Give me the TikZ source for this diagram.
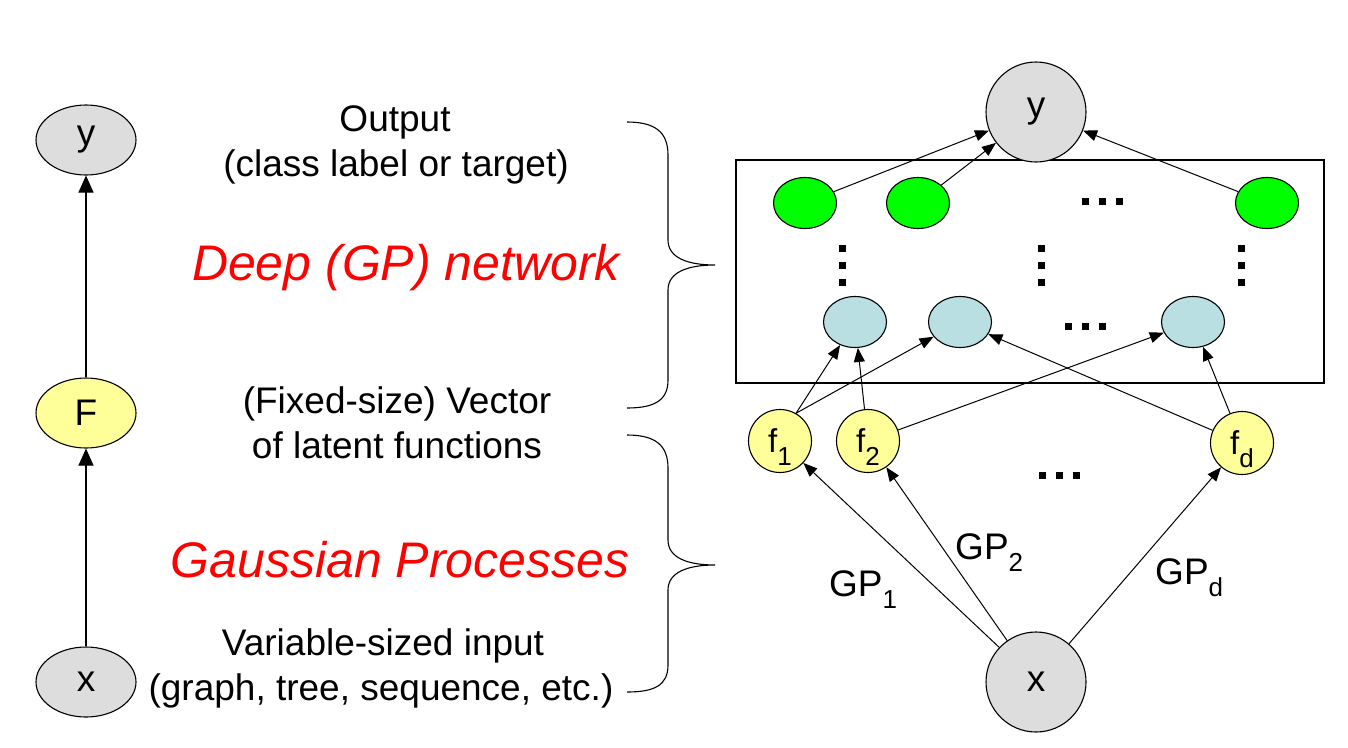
\documentclass[tikz,border=0pt]{standalone}
\usepackage{fontspec}
\setmainfont{Liberation Sans}
\usetikzlibrary{shapes.geometric, arrows.meta}
\definecolor{obsgray}{HTML}{DDDDDD}
\definecolor{latyellow}{HTML}{FFFF99}
\definecolor{topgreen}{HTML}{00FF00}
\definecolor{lowblue}{HTML}{B9DFE3}
\newcommand\lowsub[2][12pt]{\raisebox{-#1}[0pt][0pt]{\fontsize{26}{26}\selectfont #2}}

\begin{document}
\begin{tikzpicture}[x=1pt,y=-1pt,
    every node/.style={font=\fontsize{37}{45}\selectfont},
    obs/.style={ellipse, draw, line width=1.1pt, fill=obsgray, inner sep=0pt},
    latent/.style={ellipse, draw, line width=1.1pt, fill=latyellow, inner sep=0pt},
    unit/.style={ellipse, draw, line width=1.1pt, inner sep=0pt, minimum width=63pt, minimum height=51pt},
    redlbl/.style={text=red, font=\fontsize{50}{52}\selectfont\itshape},
    arr/.style={-{Triangle[length=14pt,width=11pt]}, line width=1pt},
    bigarr/.style={-{Triangle[length=17pt,width=15pt]}, line width=1.1pt}]
  \useasboundingbox (0,0) rectangle (1348,747);

  % left: compact view
  \node[obs, minimum width=100pt, minimum height=70pt] (ly) at (86,140) {y};
  \node[latent, minimum width=100pt, minimum height=70pt] (lF) at (86,413) {F};
  \node[obs, minimum width=100pt, minimum height=70pt] (lx) at (86,682) {x};
  \draw[bigarr] (lx) -- (lF);
  \draw[bigarr] (lF) -- (ly);

  % middle: descriptions
  \node[anchor=base] (outA) at (395,131) {Output};
  \node[anchor=base] (outB) at (396,176) {(class label or target)};
  \node[redlbl, anchor=base] (deep) at (406,280) {Deep (GP) network};
  \node[anchor=base] (vecA) at (397,413) {(Fixed-size) Vector};
  \node[anchor=base] (vecB) at (397,458) {of latent functions};
  \node[redlbl, anchor=base] (gauss) at (400,577) {Gaussian Processes};
  \node[anchor=base] (inA) at (383,655) {Variable-sized input};
  \node[anchor=base] (inB) at (381,700) {(graph, tree, sequence, etc.)};

  % braces
  \draw[line width=1.1pt] (627,122) .. controls (655,122) and (668,132) .. (668,155)
    -- (668,240) .. controls (668,258) and (688,265) .. (715,265)
    .. controls (688,265) and (668,272) .. (668,290)
    -- (668,380) .. controls (668,400) and (655,408) .. (627,408);
  \draw[line width=1.1pt] (627,435) .. controls (655,435) and (668,445) .. (668,468)
    -- (668,540) .. controls (668,558) and (688,565) .. (715,565)
    .. controls (688,565) and (668,572) .. (668,590)
    -- (668,665) .. controls (668,685) and (655,692) .. (627,692);

  % right: expanded view
  \draw[line width=1.2pt] (736,160) rectangle (1324,383);
  \node[obs, circle, minimum size=100pt] (ry) at (1036,112) {y};
  \node[obs, circle, minimum size=100pt] (rx) at (1036,682) {x};

  \node[unit, fill=topgreen] (g1) at (805,203) {};
  \node[unit, fill=topgreen] (g2) at (918,203) {};
  \node[unit, fill=topgreen] (g3) at (1267,203) {};

  \node[unit, fill=lowblue] (b1) at (855,322) {};
  \node[unit, fill=lowblue] (b2) at (960,322) {};
  \node[unit, fill=lowblue] (b3) at (1193,322) {};

  \node[latent, minimum width=63pt, minimum height=63pt, font=\fontsize{33}{33}\selectfont] (f1) at (780,441) {f\lowsub[13pt]{1}};
  \node[latent, minimum width=63pt, minimum height=63pt, font=\fontsize{33}{33}\selectfont] (f2) at (868,441) {f\lowsub[13pt]{2}};
  \node[latent, minimum width=63pt, minimum height=63pt, font=\fontsize{33}{33}\selectfont] (fd) at (1242,443) {f\lowsub[13pt]{d}};

  % dots
  \foreach \cx/\cy in {1102/201, 1085/326, 1059/475}
    \foreach \d in {-17,0,17}
      \fill (\cx+\d-3.5,\cy-3.5) rectangle ++(7,7);
  \foreach \cx in {842,1041,1241}
    \foreach \d in {-17,0,17}
      \fill (\cx-3.5,265+\d-3.5) rectangle ++(7,7);

  % connections
  \foreach \g in {g1,g2,g3}
    \draw[arr] (\g) -- (ry);
  \draw[arr] (f1.60) -- (b1);
  \draw[arr] (f1.60) -- (b2);
  \draw[arr] (f2) -- (b1);
  \draw[arr] (f2) -- (b3);
  \draw[arr] (fd) -- (b2);
  \draw[arr] (fd) -- (b3);
  \foreach \f in {f1,f2,fd}
    \draw[arr] (rx) -- (\f);

  % GP labels
  \node[anchor=base west, inner sep=0pt] (gp1) at (829,596) {GP\lowsub{1}};
  \node[anchor=base west, inner sep=0pt] (gp2) at (955,559) {GP\lowsub{2}};
  \node[anchor=base west, inner sep=0pt] (gpd) at (1155,584) {GP\lowsub{d}};
\end{tikzpicture}
\end{document}
